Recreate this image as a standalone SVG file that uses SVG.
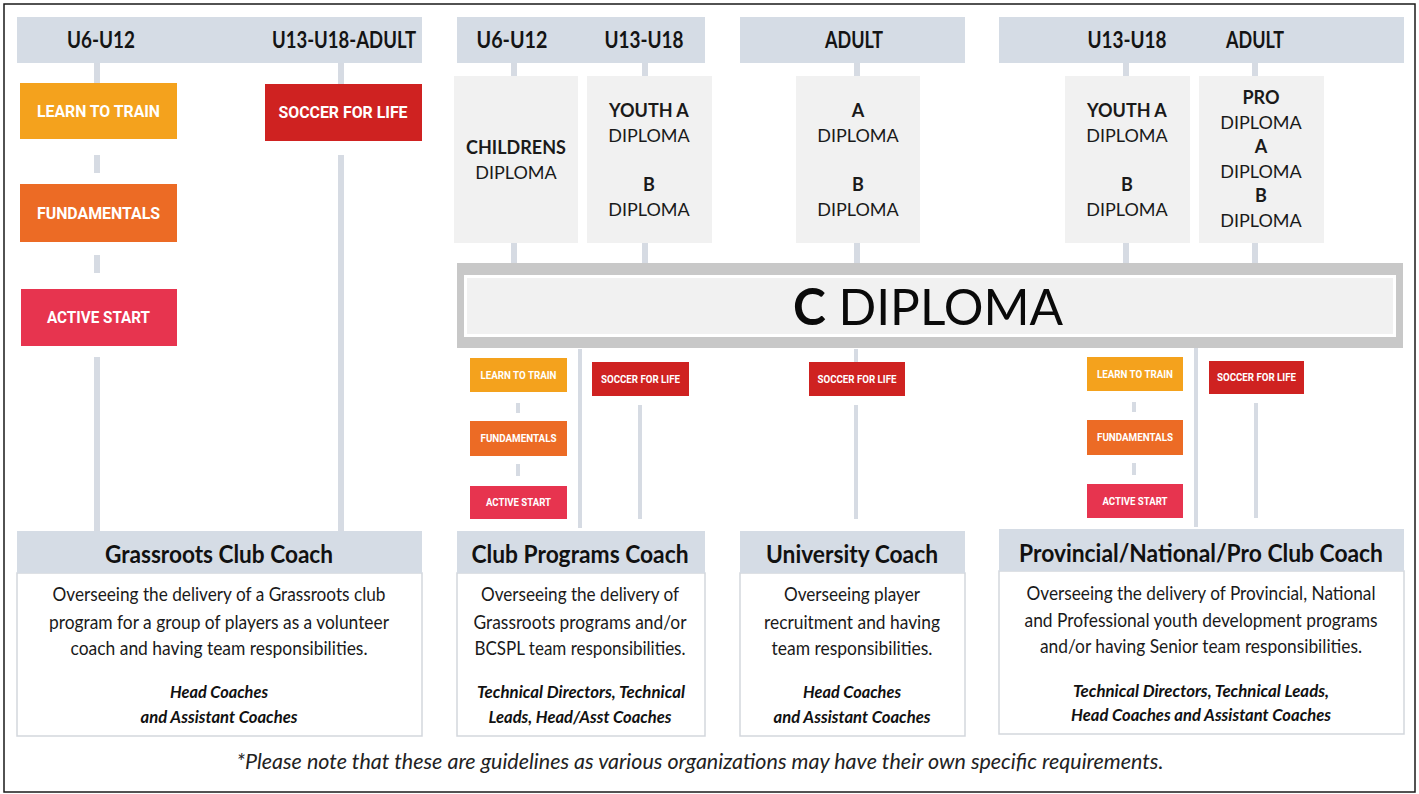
<svg xmlns="http://www.w3.org/2000/svg" width="1419" height="794" viewBox="0 0 1419 794">
<style>
.hdr{fill:#d5dce5}
.ln{fill:#d6dbe3}
.dip{fill:#f1f1f1}
.age{font-family:Lato,"Liberation Sans",sans-serif;font-weight:bold;font-size:23px;fill:#141414;text-anchor:middle}
.dt{font-family:Lato,"Liberation Sans",sans-serif;font-size:18px;fill:#1a1a1a;text-anchor:middle}
.b{font-weight:bold}
.lvl{font-family:Roboto,"DejaVu Sans",sans-serif;font-weight:bold;fill:#ffffff;text-anchor:middle}
.big{font-size:16px}
.sm{font-size:10px}
.ltt{fill:#f4a21d}
.fun{fill:#ec6b25}
.act{fill:#e7344f}
.sfl{fill:#cf2221}
.ch{font-family:Lato,"Liberation Sans",sans-serif;font-weight:bold;font-size:25px;fill:#111;text-anchor:middle}
.body{fill:#ffffff;stroke:#d3d7dd;stroke-width:1.5}
.tx{font-family:Lato,"Liberation Sans",sans-serif;font-size:19px;fill:#1a1a1a;text-anchor:middle}
.it{font-family:Lato,"Liberation Sans",sans-serif;font-style:italic;font-weight:bold;font-size:17px;fill:#111;text-anchor:middle}
</style>
<rect x="0" y="0" width="1419" height="794" fill="#ffffff"/>
<rect x="4" y="4" width="1411" height="788" fill="none" stroke="#1a1a1a" stroke-width="1.5"/>

<g id="connectors">
<rect class="ln" x="94" y="63" width="6" height="20"/>
<rect class="ln" x="94" y="155" width="6" height="18"/>
<rect class="ln" x="94" y="255" width="6" height="18"/>
<rect class="ln" x="94" y="357" width="6" height="174"/>
<rect class="ln" x="338" y="63" width="6" height="21"/>
<rect class="ln" x="338" y="155" width="6" height="376"/>
<rect class="ln" x="511" y="63" width="6" height="13"/>
<rect class="ln" x="511" y="243" width="6" height="20"/>
<rect class="ln" x="642" y="63" width="6" height="13"/>
<rect class="ln" x="642" y="243" width="6" height="20"/>
<rect class="ln" x="854" y="63" width="6" height="13"/>
<rect class="ln" x="854" y="243" width="6" height="20"/>
<rect class="ln" x="1123" y="63" width="6" height="13"/>
<rect class="ln" x="1123" y="243" width="6" height="20"/>
<rect class="ln" x="1252" y="63" width="6" height="13"/>
<rect class="ln" x="1252" y="243" width="6" height="20"/>
<rect class="ln" x="578" y="349" width="4" height="179"/>
<rect class="ln" x="516" y="403" width="4" height="10"/>
<rect class="ln" x="516" y="464" width="4" height="12"/>
<rect class="ln" x="638" y="405" width="4" height="114"/>
<rect class="ln" x="854" y="349" width="4" height="13"/>
<rect class="ln" x="854" y="405" width="4" height="114"/>
<rect class="ln" x="1194" y="348" width="4" height="179"/>
<rect class="ln" x="1132" y="402" width="4" height="10"/>
<rect class="ln" x="1132" y="463" width="4" height="12"/>
<rect class="ln" x="1254" y="403" width="4" height="115"/>
</g>

<g id="header-grassroots">
<rect class="hdr" x="17" y="17" width="405" height="46"/>
<text class="age" x="101" y="48" textLength="68" lengthAdjust="spacingAndGlyphs">U6-U12</text>
<text class="age" x="344" y="48" textLength="144" lengthAdjust="spacingAndGlyphs">U13-U18-ADULT</text>
</g>
<g id="header-club">
<rect class="hdr" x="457" y="17" width="248" height="46"/>
<text class="age" x="512" y="48" textLength="71" lengthAdjust="spacingAndGlyphs">U6-U12</text>
<text class="age" x="644" y="48" textLength="79" lengthAdjust="spacingAndGlyphs">U13-U18</text>
</g>
<g id="header-university">
<rect class="hdr" x="740" y="17" width="225" height="46"/>
<text class="age" x="854" y="48" textLength="58" lengthAdjust="spacingAndGlyphs">ADULT</text>
</g>
<g id="header-provincial">
<rect class="hdr" x="999" y="17" width="405" height="46"/>
<text class="age" x="1127" y="48" textLength="79" lengthAdjust="spacingAndGlyphs">U13-U18</text>
<text class="age" x="1255" y="48" textLength="58" lengthAdjust="spacingAndGlyphs">ADULT</text>
</g>

<g id="g-learn-to-train">
<rect class="ltt" x="20" y="83" width="157" height="56"/>
<text class="lvl big" x="98.5" y="117" textLength="123" lengthAdjust="spacingAndGlyphs">LEARN TO TRAIN</text>
</g>
<g id="g-fundamentals">
<rect class="fun" x="20" y="184" width="157" height="58"/>
<text class="lvl big" x="98.5" y="219" textLength="123" lengthAdjust="spacingAndGlyphs">FUNDAMENTALS</text>
</g>
<g id="g-active-start">
<rect class="act" x="21" y="289" width="156" height="57"/>
<text class="lvl big" x="98.5" y="323" textLength="103" lengthAdjust="spacingAndGlyphs">ACTIVE START</text>
</g>
<g id="g-soccer-for-life">
<rect class="sfl" x="265" y="84" width="157" height="57"/>
<text class="lvl big" x="343" y="118" textLength="129" lengthAdjust="spacingAndGlyphs">SOCCER FOR LIFE</text>
</g>

<g id="childrens-diploma">
<rect class="dip" x="454" y="76" width="124" height="167"/>
<text class="dt b" x="516" y="154">CHILDRENS</text>
<text class="dt" x="516" y="179">DIPLOMA</text>
</g>
<g id="club-youth-b-diploma">
<rect class="dip" x="587" y="76" width="125" height="167"/>
<text class="dt b" x="649" y="117">YOUTH A</text>
<text class="dt" x="649" y="142">DIPLOMA</text>
<text class="dt b" x="649" y="191">B</text>
<text class="dt" x="649" y="216">DIPLOMA</text>
</g>
<g id="university-a-b-diploma">
<rect class="dip" x="796" y="76" width="124" height="167"/>
<text class="dt b" x="858" y="117">A</text>
<text class="dt" x="858" y="142">DIPLOMA</text>
<text class="dt b" x="858" y="191">B</text>
<text class="dt" x="858" y="216">DIPLOMA</text>
</g>
<g id="prov-youth-b-diploma">
<rect class="dip" x="1065" y="76" width="125" height="167"/>
<text class="dt b" x="1127" y="117">YOUTH A</text>
<text class="dt" x="1127" y="142">DIPLOMA</text>
<text class="dt b" x="1127" y="191">B</text>
<text class="dt" x="1127" y="216">DIPLOMA</text>
</g>
<g id="prov-pro-a-b-diploma">
<rect class="dip" x="1199" y="76" width="125" height="167"/>
<text class="dt b" x="1261" y="104">PRO</text>
<text class="dt" x="1261" y="129">DIPLOMA</text>
<text class="dt b" x="1261" y="153">A</text>
<text class="dt" x="1261" y="178">DIPLOMA</text>
<text class="dt b" x="1261" y="202">B</text>
<text class="dt" x="1261" y="227">DIPLOMA</text>
</g>

<g id="c-diploma">
<rect x="457" y="263" width="946" height="85" fill="#c8c8c8"/>
<rect x="464" y="275" width="932" height="62" fill="#ffffff"/>
<rect x="467" y="278" width="926" height="56" fill="#f1f1f1"/>
<text x="928" y="325" font-family="Lato,'Liberation Sans',sans-serif" font-size="51" fill="#0a0a0a" text-anchor="middle" textLength="270" lengthAdjust="spacingAndGlyphs"><tspan font-weight="bold">C</tspan> DIPLOMA</text>
</g>

<g id="club-learn-to-train">
<rect class="ltt" x="470" y="358" width="97" height="34"/>
<text class="lvl sm" x="518.5" y="378.5" textLength="76" lengthAdjust="spacingAndGlyphs">LEARN TO TRAIN</text>
</g>
<g id="club-fundamentals">
<rect class="fun" x="470" y="421" width="97" height="35"/>
<text class="lvl sm" x="518.5" y="442" textLength="76" lengthAdjust="spacingAndGlyphs">FUNDAMENTALS</text>
</g>
<g id="club-active-start">
<rect class="act" x="470" y="486" width="97" height="33"/>
<text class="lvl sm" x="518.5" y="506" textLength="65" lengthAdjust="spacingAndGlyphs">ACTIVE START</text>
</g>
<g id="club-soccer-for-life">
<rect class="sfl" x="592" y="362" width="97" height="34"/>
<text class="lvl sm" x="640.5" y="382.5" textLength="79" lengthAdjust="spacingAndGlyphs">SOCCER FOR LIFE</text>
</g>
<g id="uni-soccer-for-life">
<rect class="sfl" x="809" y="362" width="96" height="34"/>
<text class="lvl sm" x="857" y="382.5" textLength="79" lengthAdjust="spacingAndGlyphs">SOCCER FOR LIFE</text>
</g>
<g id="prov-learn-to-train">
<rect class="ltt" x="1087" y="357" width="96" height="34"/>
<text class="lvl sm" x="1135" y="377.5" textLength="76" lengthAdjust="spacingAndGlyphs">LEARN TO TRAIN</text>
</g>
<g id="prov-fundamentals">
<rect class="fun" x="1087" y="420" width="96" height="35"/>
<text class="lvl sm" x="1135" y="441" textLength="76" lengthAdjust="spacingAndGlyphs">FUNDAMENTALS</text>
</g>
<g id="prov-active-start">
<rect class="act" x="1087" y="484" width="96" height="34"/>
<text class="lvl sm" x="1135" y="504.5" textLength="65" lengthAdjust="spacingAndGlyphs">ACTIVE START</text>
</g>
<g id="prov-soccer-for-life">
<rect class="sfl" x="1209" y="361" width="95" height="33"/>
<text class="lvl sm" x="1256.5" y="381" textLength="79" lengthAdjust="spacingAndGlyphs">SOCCER FOR LIFE</text>
</g>

<g id="grassroots-club-coach">
<rect class="body" x="17" y="573" width="405" height="163"/>
<rect class="hdr" x="17" y="531" width="405" height="42"/>
<text class="ch" x="219" y="563" textLength="228" lengthAdjust="spacingAndGlyphs">Grassroots Club Coach</text>
<text class="tx" x="219" y="601" textLength="333" lengthAdjust="spacingAndGlyphs">Overseeing the delivery of a Grassroots club</text>
<text class="tx" x="219" y="629" textLength="340" lengthAdjust="spacingAndGlyphs">program for a group of players as a volunteer</text>
<text class="tx" x="219" y="655" textLength="297" lengthAdjust="spacingAndGlyphs">coach and having team responsibilities.</text>
<text class="it" x="219" y="698" textLength="98" lengthAdjust="spacingAndGlyphs">Head Coaches</text>
<text class="it" x="219" y="723" textLength="157" lengthAdjust="spacingAndGlyphs">and Assistant Coaches</text>
</g>
<g id="club-programs-coach">
<rect class="body" x="457" y="573" width="248" height="163"/>
<rect class="hdr" x="457" y="531" width="248" height="42"/>
<text class="ch" x="580" y="563" textLength="217" lengthAdjust="spacingAndGlyphs">Club Programs Coach</text>
<text class="tx" x="580" y="601" textLength="198" lengthAdjust="spacingAndGlyphs">Overseeing the delivery of</text>
<text class="tx" x="580" y="629" textLength="213" lengthAdjust="spacingAndGlyphs">Grassroots programs and/or</text>
<text class="tx" x="580" y="655" textLength="211" lengthAdjust="spacingAndGlyphs">BCSPL team responsibilities.</text>
<text class="it" x="581" y="698" textLength="208" lengthAdjust="spacingAndGlyphs">Technical Directors, Technical</text>
<text class="it" x="580" y="723" textLength="183" lengthAdjust="spacingAndGlyphs">Leads, Head/Asst Coaches</text>
</g>
<g id="university-coach">
<rect class="body" x="740" y="573" width="225" height="163"/>
<rect class="hdr" x="740" y="531" width="225" height="42"/>
<text class="ch" x="852" y="563" textLength="172" lengthAdjust="spacingAndGlyphs">University Coach</text>
<text class="tx" x="852" y="601" textLength="136" lengthAdjust="spacingAndGlyphs">Overseeing player</text>
<text class="tx" x="852" y="629" textLength="176" lengthAdjust="spacingAndGlyphs">recruitment and having</text>
<text class="tx" x="852" y="655" textLength="161" lengthAdjust="spacingAndGlyphs">team responsibilities.</text>
<text class="it" x="852" y="698" textLength="98" lengthAdjust="spacingAndGlyphs">Head Coaches</text>
<text class="it" x="852" y="723" textLength="157" lengthAdjust="spacingAndGlyphs">and Assistant Coaches</text>
</g>
<g id="provincial-coach">
<rect class="body" x="999" y="571" width="405" height="163"/>
<rect class="hdr" x="999" y="529" width="405" height="42"/>
<text class="ch" x="1201" y="562" textLength="364" lengthAdjust="spacingAndGlyphs">Provincial/National/Pro Club Coach</text>
<text class="tx" x="1201" y="600" textLength="349" lengthAdjust="spacingAndGlyphs">Overseeing the delivery of Provincial, National</text>
<text class="tx" x="1201" y="627" textLength="353" lengthAdjust="spacingAndGlyphs">and Professional youth development programs</text>
<text class="tx" x="1201" y="653" textLength="322" lengthAdjust="spacingAndGlyphs">and/or having Senior team responsibilities.</text>
<text class="it" x="1201" y="697" textLength="256" lengthAdjust="spacingAndGlyphs">Technical Directors, Technical Leads,</text>
<text class="it" x="1201" y="721" textLength="260" lengthAdjust="spacingAndGlyphs">Head Coaches and Assistant Coaches</text>
</g>

<text x="700" y="769" font-family="Lato,'Liberation Sans',sans-serif" font-style="italic" font-size="22" fill="#222" text-anchor="middle" textLength="927" lengthAdjust="spacingAndGlyphs">*Please note that these are guidelines as various organizations may have their own specific requirements.</text>
</svg>
